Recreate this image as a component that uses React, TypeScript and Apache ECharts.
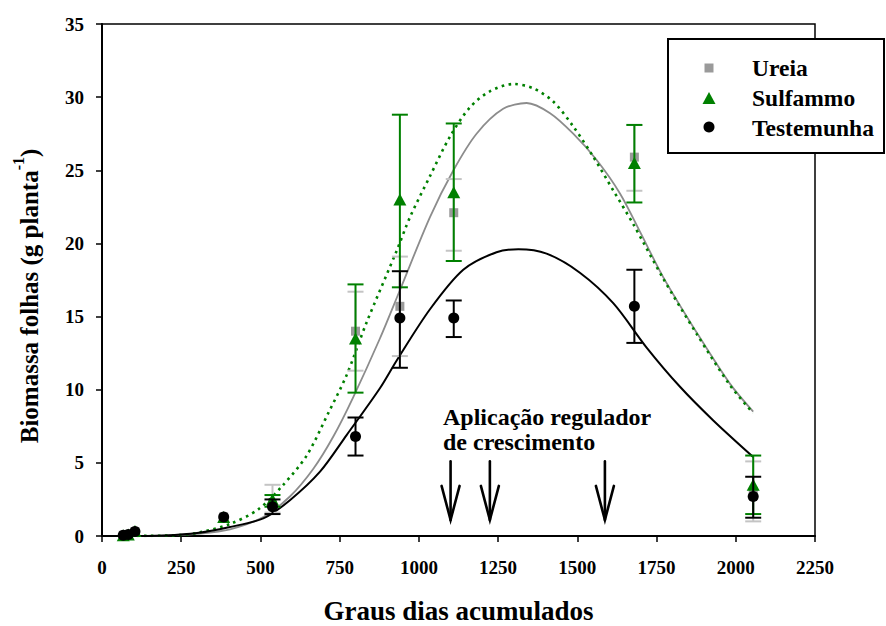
import React, { useEffect, useRef } from "react";
import * as echarts from "echarts";

// ---- data ----
const sampleX = [67, 83, 104, 384, 538, 800, 940, 1110, 1680, 2055];
const ureiaY = [0.05, 0.1, 0.3, 1.3, 2.2, 14.0, 15.7, 22.1, 25.9, 3.0];
const sulfY = [0.05, 0.1, 0.35, 1.3, 2.5, 13.5, 23.0, 23.5, 25.5, 3.5];
const testY = [0.05, 0.1, 0.3, 1.3, 2.0, 6.8, 14.9, 14.9, 15.7, 2.7];

const errX = [538, 800, 940, 1110, 1680, 2055];
const ureiaLow = [1.6, 11.3, 12.3, 19.5, 23.6, 1.0];
const ureiaHigh = [3.5, 16.7, 19.1, 24.4, 28.1, 5.1];
const sulfLow = [2.0, 9.8, 17.0, 18.8, 22.8, 1.5];
const sulfHigh = [2.8, 17.2, 28.8, 28.2, 28.1, 5.5];
const testLow = [1.5, 5.5, 11.5, 13.6, 13.2, 1.25];
const testHigh = [2.5, 8.1, 18.1, 16.1, 18.2, 4.05];

// fitted curves
const ureiaCurve = [
  [66, 0], [200, 0.04], [300, 0.15], [404, 0.45], [509, 1.3], [593, 2.7], [667, 4.6],
  [730, 6.8], [793, 9.5], [877, 13.5], [940, 16.8], [1035, 21.8], [1109, 25.0],
  [1182, 27.5], [1266, 29.2], [1340, 29.6], [1414, 28.9], [1487, 27.5], [1561, 25.7],
  [1635, 23.4], [1700, 20.7], [1771, 17.7], [1877, 13.9], [1982, 10.4], [2055, 8.5],
];
const sulfCurve = [
  [66, 0], [150, 0.01], [246, 0.07], [309, 0.25], [404, 0.82], [493, 1.82], [572, 3.5],
  [646, 5.5], [714, 8.4], [772, 11.0], [835, 14.6], [930, 19.5], [972, 21.8],
  [1035, 24.6], [1098, 27.3], [1161, 29.3], [1224, 30.4], [1298, 30.9], [1361, 30.6],
  [1424, 29.7], [1487, 28.0], [1551, 25.9], [1614, 23.6], [1677, 21.3], [1771, 17.6],
  [1877, 13.8], [1982, 10.3], [2055, 8.4],
];
const testCurve = [
  [66, 0], [200, 0.04], [300, 0.2], [400, 0.6], [509, 1.2], [593, 2.45], [688, 4.4],
  [772, 6.9], [877, 10.1], [930, 12.0], [1035, 15.5], [1140, 18.2], [1245, 19.4],
  [1314, 19.6], [1403, 19.3], [1508, 18.0], [1614, 15.9], [1718, 12.9], [1824, 10.2],
  [1929, 7.9], [2055, 5.4],
];

const arrowX = [1100, 1224, 1587];
const arrowTop = 5.1;
const arrowBottom = 1.1;

const xTicks = { min: 0, max: 2250, interval: 250 };
const yTicks = { min: 0, max: 35, interval: 5 };

const FONT = "Liberation Serif";
const GREEN = "#008000";
const GRAY_LINE = "#8c8c8c";
const GRAY_ERR = "#c4c4c4";
const GRAY_MARK = "#9a9a9a";

function errSeries(name: string, low: number[], high: number[], color: string, z: number) {
  return {
    name,
    type: "custom",
    z,
    data: errX.map((x, i) => [x, low[i], high[i]]),
    renderItem: (_p: any, api: any) => {
      const x = api.value(0);
      const a = api.coord([x, api.value(1)]);
      const b = api.coord([x, api.value(2)]);
      const w = 8;
      const st = { stroke: color, lineWidth: 2 };
      return {
        type: "group",
        children: [
          { type: "line", shape: { x1: a[0], y1: a[1], x2: b[0], y2: b[1] }, style: st },
          { type: "line", shape: { x1: a[0] - w, y1: a[1], x2: a[0] + w, y2: a[1] }, style: st },
          { type: "line", shape: { x1: b[0] - w, y1: b[1], x2: b[0] + w, y2: b[1] }, style: st },
        ],
      };
    },
  };
}

export default function App() {
  const ref = useRef<HTMLDivElement>(null);
  useEffect(() => {
    if (!ref.current) return;
    const chart = echarts.init(ref.current, undefined, { renderer: "svg" });
    const labelStyle = { fontFamily: FONT, fontWeight: "bold", fontSize: 19, color: "#000" };
    const option: any = {
      animation: false,
      backgroundColor: "#fff",
      grid: {
        left: 102, top: 24, right: 71, bottom: 90,
        outerBoundsMode: "none", containLabel: false,
        show: true, borderColor: "#000", borderWidth: 1.5, backgroundColor: "transparent",
      },
      xAxis: {
        type: "value",
        ...xTicks,
        name: "Graus dias acumulados",
        nameLocation: "middle",
        nameGap: 61,
        nameTextStyle: { fontFamily: FONT, fontWeight: "bold", fontSize: 27, color: "#000" },
        axisLine: { onZero: false, lineStyle: { color: "#000", width: 2 } },
        axisTick: { inside: false, length: 6, lineStyle: { color: "#000", width: 1.5 } },
        axisLabel: { ...labelStyle, margin: 22, formatter: (v: number) => String(v) },
        splitLine: { show: false },
      },
      yAxis: {
        type: "value",
        ...yTicks,
        name: "{t|Biomassa folhas (g planta}{s|-1}{t|)}",
        nameLocation: "middle",
        nameGap: 60,
        nameTextStyle: {
          padding: [0, 32, 0, 0],
          rich: {
            t: { fontFamily: FONT, fontWeight: "bold", fontSize: 25, color: "#000", lineHeight: 32, verticalAlign: "bottom" },
            s: { fontFamily: FONT, fontWeight: "bold", fontSize: 16, color: "#000", lineHeight: 32, verticalAlign: "top" },
          },
        },
        axisLine: { lineStyle: { color: "#000", width: 2 } },
        axisTick: { inside: false, length: 6, lineStyle: { color: "#000", width: 1.5 } },
        axisLabel: { ...labelStyle, margin: 18, formatter: (v: number) => String(v) },
        splitLine: { show: false },
      },
      series: [
        {
          name: "UreiaCurve", type: "line", data: ureiaCurve, smooth: 0.3, showSymbol: false,
          lineStyle: { color: GRAY_LINE, width: 1.8 }, z: 2,
        },
        {
          name: "SulfCurve", type: "line", data: sulfCurve, smooth: 0.3, showSymbol: false,
          lineStyle: { color: GREEN, width: 2.6, type: [2.6, 4.4] }, z: 2,
        },
        {
          name: "TestCurve", type: "line", data: testCurve, smooth: 0.3, showSymbol: false,
          lineStyle: { color: "#000", width: 2 }, z: 2,
        },
        errSeries("UreiaErr", ureiaLow, ureiaHigh, GRAY_ERR, 3),
        {
          name: "Ureia", type: "scatter", z: 4, symbol: "rect", symbolSize: 9,
          itemStyle: { color: GRAY_MARK, opacity: 1 },
          data: sampleX.map((x, i) => [x, ureiaY[i]]),
        },
        errSeries("SulfErr", sulfLow, sulfHigh, GREEN, 5),
        {
          name: "Sulfammo", type: "scatter", z: 6, symbol: "triangle", symbolSize: [13, 12],
          itemStyle: { color: GREEN, opacity: 1 },
          data: sampleX.map((x, i) => [x, sulfY[i]]),
        },
        errSeries("TestErr", testLow, testHigh, "#000", 7),
        {
          name: "Testemunha", type: "scatter", z: 8, symbol: "circle", symbolSize: 11,
          itemStyle: { color: "#000", opacity: 1 },
          data: sampleX.map((x, i) => [x, testY[i]]),
        },
        {
          name: "Arrows", type: "custom", z: 9,
          data: arrowX.map((x) => [x, arrowTop, arrowBottom]),
          renderItem: (_p: any, api: any) => {
            const x = api.value(0);
            const t = api.coord([x, api.value(1)]);
            const b = api.coord([x, api.value(2)]);
            const st = { stroke: "#000", lineWidth: 2.6, lineCap: "round" };
            return {
              type: "group",
              children: [
                { type: "line", shape: { x1: t[0], y1: t[1], x2: b[0], y2: b[1] }, style: st },
                { type: "polyline", shape: { points: [[b[0] - 9, b[1] - 34], [b[0], b[1]], [b[0] + 9, b[1] - 34]] }, style: { ...st, fill: null } },
              ],
            };
          },
        },
      ],
      graphic: [
        {
          type: "text", left: 443, top: 404, z: 20,
          style: {
            text: "Aplicação regulador\nde crescimento",
            fontFamily: FONT, fontWeight: "bold", fontSize: 24, lineHeight: 25, fill: "#000",
          },
        },
        {
          type: "rect", z: 30,
          shape: { x: 668, y: 39, width: 216, height: 114 },
          style: { fill: "#fff", stroke: "#000", lineWidth: 2 },
        },
        {
          type: "rect", z: 31,
          shape: { x: 704.5, y: 63.5, width: 9, height: 9 },
          style: { fill: GRAY_MARK },
        },
        {
          type: "polygon", z: 31,
          shape: { points: [[709, 92], [702.5, 104], [715.5, 104]] },
          style: { fill: GREEN },
        },
        {
          type: "circle", z: 31,
          shape: { cx: 709, cy: 127, r: 5.5 },
          style: { fill: "#000" },
        },
        ...["Ureia", "Sulfammo", "Testemunha"].map((t, i) => ({
          type: "text", z: 31, x: 752, y: 68 + i * 30,
          style: {
            text: t, fontFamily: FONT, fontWeight: "bold", fontSize: 23.5, fill: "#000",
            verticalAlign: "middle",
          },
        })),
      ],
    };
    chart.setOption(option);
    return () => chart.dispose();
  }, []);
  return (
    <div
      ref={ref}
      style={{ position: "fixed", left: 0, top: 0, width: 886, height: 626, background: "#fff" }}
    />
  );
}
